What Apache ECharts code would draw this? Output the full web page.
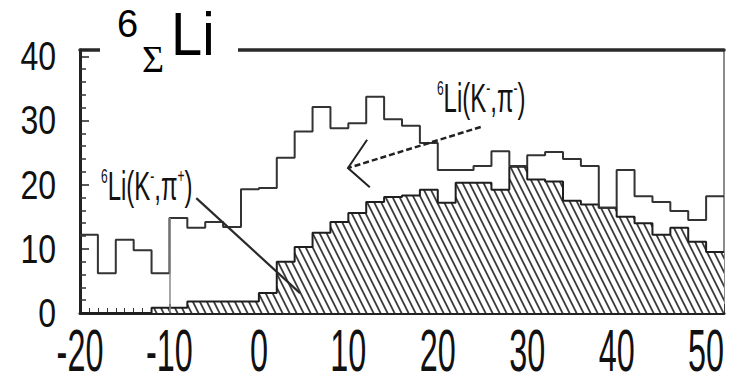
<!DOCTYPE html>
<html>
<head>
<meta charset="utf-8">
<script src="https://cdn.jsdelivr.net/npm/echarts@6/dist/echarts.min.js"></script>
<style>
html, body { margin: 0; padding: 0; background: #fff; }
#main { width: 738px; height: 385px; }
</style>
</head>
<body>
<div id="main"></div>
<script>
// bin left edges, 2 units wide; last bin closes at binEnd
var binEdges = [-20, -18, -16, -14, -12, -10, -8, -6, -4, -2, 0, 2, 4, 6, 8, 10, 12, 14,
                16, 18, 20, 22, 24, 26, 28, 30, 32, 34, 36, 38, 40, 42, 44, 46, 48, 50];
var binEnd = 52;
// 6Li(K-,pi-) : open histogram
var piMinus = [12.2, 6.2, 11.4, 9.8, 6.2, 14.8, 13.3, 14.2, 13.4, 19.3, 19.5, 24.2,
               28.3, 32.1, 28.8, 29.6, 33.7, 30.2, 29.2, 26.5, 22.3, 22.3, 22.9, 25.2,
               22.9, 24.6, 25.1, 24.0, 22.9, 16.4, 22.3, 18.2, 17.3, 15.9, 14.5, 18.2];
// 6Li(K-,pi+) : hatched histogram
var piPlus = [0, 0, 0, 0, 0.8, 0.8, 1.8, 1.8, 1.8, 1.8, 3.1, 8.0,
              10.3, 12.5, 14.2, 15.6, 17.3, 18.1, 18.3, 19.2, 17.2, 20.3, 20.3, 19.2,
              22.8, 20.8, 20.5, 17.5, 16.9, 16.4, 15.0, 14.0, 12.2, 13.3, 11.1, 9.5];
var xTicks = [-20, -10, 0, 10, 20, 30, 40, 50];
var yTicks = [0, 10, 20, 30, 40];

var sans = "Liberation Sans, Arial, sans-serif";

function stepData(values) {
	var pts = [];
	for (var i = 0; i < binEdges.length; i++) {
		pts.push([binEdges[i], values[i]]);
	}
	pts.push([binEnd, values[values.length - 1]]);
	return pts;
}

// diagonal hatch tile
function hatchTile() {
	var c = document.createElement('canvas');
	c.width = 7;
	c.height = 14;
	var ctx = c.getContext('2d');
	ctx.fillStyle = '#fff';
	ctx.fillRect(0, 0, 7, 14);
	ctx.strokeStyle = '#3a3a3a';
	ctx.lineWidth = 1.8;
	[-7, 0, 7].forEach(function(dx) {
		ctx.beginPath();
		ctx.moveTo(dx - 1, -2);
		ctx.lineTo(dx + 8, 16);
		ctx.stroke();
	});
	return c;
}

var myChart = echarts.init(document.getElementById('main'), null, {renderer: 'svg'});

var option = {
	animation: false,
	backgroundColor: '#fff',
	grid: {left: 80, right: 14, top: 50, bottom: 72},
	xAxis: [{
		type: 'value',
		min: -20,
		max: binEnd,
		interval: 10,
		axisLine: {onZero: false, lineStyle: {color: '#222', width: 3}},
		axisTick: {inside: true, length: 9, lineStyle: {color: '#222', width: 1.5}},
		minorTick: {show: true, splitNumber: 10, length: 5, lineStyle: {color: '#333', width: 1}},
		splitLine: {show: false},
		axisLabel: {show: false}
	}, {
		type: 'value',
		position: 'top',
		min: -20,
		max: binEnd,
		axisLine: {onZero: false, lineStyle: {color: '#2a2a2a', width: 3.5}},
		axisTick: {show: false},
		axisLabel: {show: false},
		splitLine: {show: false}
	}],
	yAxis: [{
		type: 'value',
		min: 0,
		max: 41,
		interval: 10,
		axisLine: {show: true, onZero: false, lineStyle: {color: '#222', width: 3}},
		axisTick: {inside: true, length: 9, lineStyle: {color: '#222', width: 1.5}},
		minorTick: {show: true, splitNumber: 5, length: 6, lineStyle: {color: '#333', width: 1.5}},
		splitLine: {show: false},
		axisLabel: {show: false}
	}, {
		type: 'value',
		position: 'right',
		min: 0,
		max: 41,
		axisLine: {show: true, onZero: false, lineStyle: {color: '#666', width: 1.5}},
		axisTick: {show: false},
		axisLabel: {show: false},
		splitLine: {show: false}
	}],
	series: [{
		name: '6Li(K-,pi+)',
		type: 'line',
		step: 'end',
		symbol: 'none',
		data: stepData(piPlus),
		lineStyle: {color: '#1e1e1e', width: 2},
		areaStyle: {
			color: {image: hatchTile(), repeat: 'repeat', imageWidth: 7, imageHeight: 14},
			opacity: 1
		},
		z: 2
	}, {
		name: '6Li(K-,pi-)',
		type: 'line',
		step: 'end',
		symbol: 'none',
		data: stepData(piMinus),
		lineStyle: {color: '#333', width: 2},
		markLine: {
			silent: true,
			symbol: 'none',
			label: {show: false},
			lineStyle: {color: '#8a8a8a', width: 1.5, type: 'solid'},
			data: [[{coord: [-10, 0]}, {coord: [-10, 14.8]}]]
		},
		z: 3
	}]
};

myChart.setOption(option);

function px(x, y) {
	return myChart.convertToPixel({seriesIndex: 0}, [x, y]);
}

var graphics = [];

// tick labels, condensed like the original print
xTicks.forEach(function(v) {
	var p = px(v, 0);
	graphics.push({type: 'text', x: p[0], y: p[1] + 38, scaleX: 0.6, scaleY: 1.08, z: 50,
		style: {text: String(v), fontSize: 54, fontFamily: sans, fill: '#111', align: 'center', verticalAlign: 'middle'}});
});
yTicks.forEach(function(v) {
	var p = px(-20, v);
	graphics.push({type: 'text', x: p[0] - 24, y: p[1], scaleX: 0.8, z: 50,
		style: {text: String(v), fontSize: 40, fontFamily: sans, fill: '#111', align: 'right', verticalAlign: 'middle'}});
});

// title over the top frame
graphics.push(
	{type: 'rect', shape: {x: 100, y: 38, width: 138, height: 22}, style: {fill: '#fff'}, z: 100},
	{type: 'text', x: 117, y: 24, z: 101,
		style: {text: '6', fontSize: 38, fontFamily: sans, fill: '#000', verticalAlign: 'middle'}},
	{type: 'text', x: 142, y: 59, z: 101,
		style: {text: 'Σ', fontSize: 38, fontFamily: "Liberation Serif, serif", fill: '#000', verticalAlign: 'middle'}},
	{type: 'text', x: 171, y: 34, z: 101, scaleX: 1.02, scaleY: 1.12,
		style: {text: 'Li', fontSize: 55, fontFamily: sans, fill: '#000', verticalAlign: 'middle'}}
);

// annotations
var labelRich = {
	s: {fontSize: 20, fontFamily: sans, fill: '#111', verticalAlign: 'top', lineHeight: 18},
	t: {fontSize: 40, fontFamily: sans, fill: '#111', lineHeight: 40}
};
var t1 = px(19.9, 36.7), t2 = px(-17.65, 22.9);
var a0 = px(24.8, 29.0), tip = px(9.96, 22.6), h1 = px(12.1, 27.0), h2 = px(12.4, 19.6);
var b0 = px(-7.0, 17.9), b1 = px(4.6, 3.1);

graphics.push(
	{type: 'text', x: t1[0], y: t1[1], scaleX: 0.6, z: 101,
		style: {text: '{s|6}{t|Li(K}{s|-}{t|,π}{s|-}{t|)}', rich: labelRich, verticalAlign: 'top'}},
	{type: 'text', x: t2[0], y: t2[1], scaleX: 0.6, z: 101,
		style: {text: '{s|6}{t|Li(K}{s|-}{t|,π}{s|+}{t|)}', rich: labelRich, verticalAlign: 'top'}},
	{type: 'polyline', z: 101, shape: {points: [a0, tip]},
		style: {stroke: '#222', lineWidth: 2.5, lineDash: [6, 3], fill: null}},
	{type: 'polyline', z: 101, shape: {points: [h1, tip, h2]},
		style: {stroke: '#222', lineWidth: 2, fill: null}},
	{type: 'polyline', z: 101, shape: {points: [b0, b1]},
		style: {stroke: '#2a2a2a', lineWidth: 2.2, fill: null}}
);

myChart.setOption({graphic: graphics});
</script>
</body>
</html>
